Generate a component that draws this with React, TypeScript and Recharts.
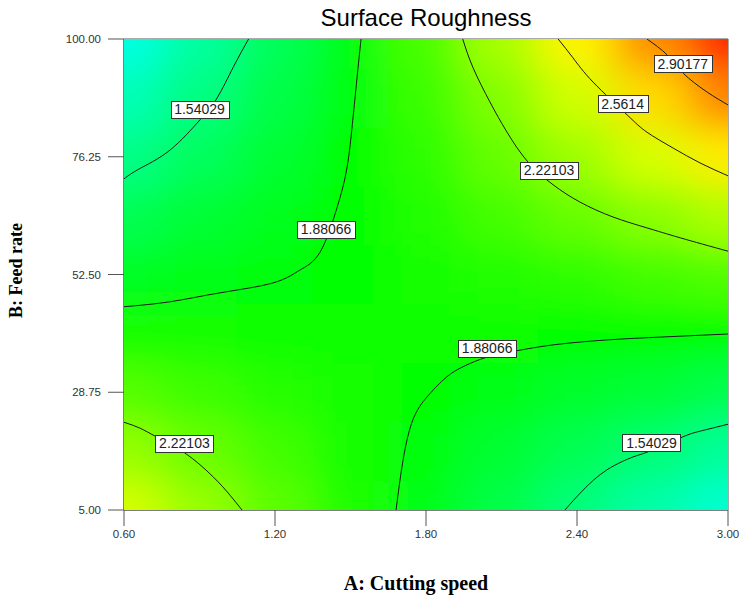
import { ComposedChart, Scatter, XAxis, YAxis, ReferenceArea, Label } from 'recharts'

const speedLevels = [0.6, 0.9, 1.2, 1.5, 1.8, 2.1, 2.4, 2.7, 3.0]
const feedLevels = [5, 16.875, 28.75, 40.625, 52.5, 64.375, 76.25, 88.125, 100]
// one row per feed level, bottom to top
const roughness = [
  [2.49, 2.32, 2.15, 1.98, 1.82, 1.67, 1.52, 1.37, 1.24],
  [2.31, 2.19, 2.08, 1.96, 1.85, 1.75, 1.64, 1.54, 1.42],
  [2.13, 2.07, 2.01, 1.95, 1.89, 1.83, 1.77, 1.72, 1.66],
  [1.96, 1.95, 1.94, 1.93, 1.93, 1.92, 1.90, 1.89, 1.88],
  [1.79, 1.83, 1.87, 1.91, 1.95, 1.99, 2.03, 2.08, 2.12],
  [1.64, 1.73, 1.81, 1.90, 1.99, 2.09, 2.18, 2.28, 2.38],
  [1.48, 1.61, 1.75, 1.89, 2.03, 2.18, 2.33, 2.49, 2.65],
  [1.33, 1.50, 1.68, 1.87, 2.06, 2.26, 2.47, 2.70, 2.94],
  [1.19, 1.40, 1.62, 1.85, 2.10, 2.36, 2.63, 2.92, 3.22],
]

const xTicks = [0.6, 1.2, 1.8, 2.4, 3.0]
const yTicks = [5, 28.75, 52.5, 76.25, 100]

// contour paths [cutting speed, feed rate]
const c154UpperLeft = [[0.6, 71.8], [0.664, 73.9], [0.783, 77.6], [0.902, 83.7], [0.97, 88.1], [1.033, 94.2], [1.095, 100]]
const c188UpperLeft = [[0.6, 46.0], [0.783, 47.0], [0.981, 48.8], [1.192, 50.8], [1.299, 53.4], [1.379, 57.0], [1.446, 65.9], [1.486, 74.0], [1.51, 84.1], [1.53, 94.2], [1.542, 100]]
const c222UpperRight = [[1.946, 100], [1.987, 94.2], [2.054, 87.3], [2.122, 81.2], [2.205, 75.2], [2.305, 70.6], [2.412, 67.1], [2.543, 64.1], [2.678, 61.9], [2.81, 59.9], [3.0, 57.2]]
const c256 = [[2.325, 100], [2.384, 96.2], [2.464, 91.3], [2.599, 84.7], [2.678, 81.2], [2.782, 78.0], [2.889, 75.0], [3.0, 72.4]]
const c290 = [[2.678, 100], [2.758, 96.8], [2.822, 93.1], [2.917, 89.3], [3.0, 86.7]]
const c188LowerRight = [[1.681, 5], [1.709, 15.1], [1.748, 23.2], [1.804, 27.8], [1.868, 31.2], [1.935, 33.6], [2.046, 35.9], [2.158, 37.1], [2.305, 38.3], [2.519, 39.3], [2.742, 39.9], [3.0, 40.5]]
const c154LowerRight = [[2.352, 5], [2.424, 9.0], [2.519, 13.1], [2.623, 15.7], [2.69, 16.9], [2.818, 19.7], [2.889, 20.9], [3.0, 22.3]]
const c222LowerLeft = [[0.6, 22.7], [0.664, 21.5], [0.731, 19.7], [0.842, 16.5], [0.954, 11.7], [1.021, 8.0], [1.069, 5]]

const contours = [c154UpperLeft, c188UpperLeft, c222UpperRight, c256, c290, c188LowerRight, c154LowerRight, c222LowerLeft]

const tagText = ['1.54029', '1.88066', '2.22103', '2.5614', '2.90177', '1.88066', '1.54029', '2.22103']
const tagSpeed = [0.9, 1.403, 2.289, 2.581, 2.82, 2.043, 2.696, 0.84]
const tagFeed = [85.8, 61.6, 73.5, 86.9, 95.0, 37.6, 18.6, 18.5]

const W = 742
const H = 600
const MARGIN = { top: 39, right: 14, bottom: 0, left: 0 }
const Y_AXIS_W = 124
const X_AXIS_H = 90
const PLOT_W = W - MARGIN.left - MARGIN.right - Y_AXIS_W
const PLOT_H = H - MARGIN.top - MARGIN.bottom - X_AXIS_H
const CELL_W = PLOT_W / (speedLevels.length - 1)
const CELL_H = PLOT_H / (feedLevels.length - 1)
const EXT = 80

const SANS = '"Liberation Sans", Arial, sans-serif'
const SERIF = '"Liberation Serif", "Times New Roman", serif'

// blue -> cyan -> green -> yellow -> red
const stops: [number, number[]][] = [
  [0.4, [0, 0, 255]],
  [1.1, [0, 255, 255]],
  [1.9, [0, 255, 0]],
  [2.6, [255, 255, 0]],
  [3.3, [255, 0, 0]],
]
function heatColor(v: number) {
  if (v <= stops[0][0]) return `rgb(${stops[0][1].join(',')})`
  for (let k = 1; k < stops.length; k++) {
    const [v1, c1] = stops[k]
    const [v0, c0] = stops[k - 1]
    if (v <= v1) {
      const t = (v - v0) / (v1 - v0)
      const c = c0.map((x, n) => Math.round(x + (c1[n] - x) * t))
      return `rgb(${c.join(',')})`
    }
  }
  return `rgb(${stops[stops.length - 1][1].join(',')})`
}

const heatCells = roughness.flatMap((row, j) =>
  row.map((v, i) => ({ a: speedLevels[i], b: feedLevels[j], v, i, j }))
)
const contourData = contours.map(c => c.map(([a, b]) => ({ a, b })))
const tags = tagText.map((text, k) => ({ a: tagSpeed[k], b: tagFeed[k], text }))

const HeatCell = (props: any) => {
  const { cx, cy, payload } = props
  let x0 = cx - CELL_W / 2 - 0.5
  let x1 = cx + CELL_W / 2 + 0.5
  let y0 = cy - CELL_H / 2 - 0.5
  let y1 = cy + CELL_H / 2 + 0.5
  if (payload.i === 0) x0 -= EXT
  if (payload.i === speedLevels.length - 1) x1 += EXT
  if (payload.j === 0) y1 += EXT
  if (payload.j === feedLevels.length - 1) y0 -= EXT
  return <rect x={x0} y={y0} width={x1 - x0} height={y1 - y0} fill={heatColor(payload.v)} />
}

function textWidth(s: string) {
  let w = 0
  for (const ch of s) w += ch === '.' ? 3.89 : 7.78
  return w
}

const ContourTag = (props: any) => {
  const { cx, cy, payload } = props
  const w = Math.round(textWidth(payload.text) + 7)
  const x = Math.round(cx - w / 2) + 0.5
  const y = Math.round(cy - 8.5) + 0.5
  return (
    <g>
      <rect x={x} y={y} width={w} height={17} fill="#fff" stroke="#333" strokeWidth={1} />
      <text x={cx} y={cy} dy="0.36em" textAnchor="middle" fontSize={14} fontFamily={SANS} fill="#222">
        {payload.text}
      </text>
    </g>
  )
}

const noDot = () => <g />

export default function App() {
  return (
    <div style={{ position: 'absolute', left: 0, top: 0, background: '#fff' }}>
      <style>{`.heat-layer { filter: url(#heatBlur); }`}</style>
      <ComposedChart width={W} height={H} margin={MARGIN}>
        <defs>
          <filter id="heatBlur" x="-20%" y="-20%" width="140%" height="140%">
            <feGaussianBlur stdDeviation="22 18" />
          </filter>
        </defs>
        <XAxis
          type="number"
          dataKey="a"
          domain={[0.6, 3]}
          ticks={xTicks}
          allowDataOverflow
          tickFormatter={(v: number) => v.toFixed(2)}
          height={X_AXIS_H}
          tickSize={16}
          tickMargin={4}
          stroke="#555"
          tick={{ fill: '#333', fontSize: 11.5, fontFamily: SANS }}
        >
          <Label
            content={({ viewBox }: any) => (
              <text x={viewBox.x + viewBox.width / 2 - 10} y={viewBox.y + viewBox.height - 10}
                textAnchor="middle" fontSize={20} fontWeight="bold" fontFamily={SERIF} fill="#000">
                A: Cutting speed
              </text>
            )}
          />
        </XAxis>
        <YAxis
          type="number"
          dataKey="b"
          domain={[5, 100]}
          ticks={yTicks}
          allowDataOverflow
          tickFormatter={(v: number) => v.toFixed(2)}
          width={Y_AXIS_W}
          tickSize={16}
          tickMargin={7}
          stroke="#555"
          tick={{ fill: '#333', fontSize: 11.5, fontFamily: SANS }}
        >
          <Label
            content={({ viewBox }: any) => {
              const x = viewBox.x + 22
              const y = viewBox.y + viewBox.height / 2 - 4
              return (
                <text x={x} y={y} transform={`rotate(-90 ${x} ${y})`} textAnchor="middle"
                  fontSize={18} fontWeight="bold" fontFamily={SERIF} fill="#000">
                  B: Feed rate
                </text>
              )
            }}
          />
        </YAxis>

        <Scatter data={heatCells} shape={HeatCell} className="heat-layer" isAnimationActive={false} />

        {contourData.map((c, k) => (
          <Scatter
            key={k}
            data={c}
            shape={noDot}
            line={{ stroke: '#1a1a1a', strokeWidth: 1 }}
            lineJointType="natural"
            isAnimationActive={false}
          />
        ))}

        <Scatter data={tags} shape={ContourTag} isAnimationActive={false} />

        <ReferenceArea x1={0.6} x2={3} y1={5} y2={100} fill="none" stroke="#555" strokeWidth={1} ifOverflow="visible">
          <Label value="Surface Roughness" position="top" offset={13}
            style={{ fontSize: 24, fontFamily: SANS, fill: '#000' }} />
        </ReferenceArea>
      </ComposedChart>
    </div>
  )
}
